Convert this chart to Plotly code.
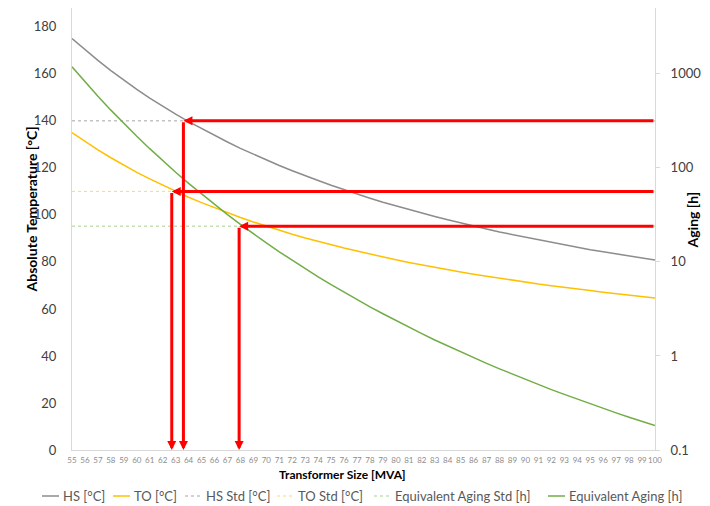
import math
import plotly.graph_objects as go

# ---- data ----
sizes = list(range(55, 101))
hs = [175.0, 170.2, 165.7, 161.4, 157.3, 153.4, 149.7, 146.2, 142.9, 139.7,
      136.7, 133.8, 131.0, 128.3, 125.8, 123.3, 121.0, 118.8, 116.6, 114.6,
      112.6, 110.7, 108.9, 107.1, 105.4, 103.8, 102.2, 100.7, 99.3, 97.9,
      96.5, 95.2, 94.0, 92.7, 91.6, 90.4, 89.3, 88.2, 87.2, 86.2,
      85.2, 84.3, 83.4, 82.5, 81.7, 80.8]
to = [135.0, 131.2, 127.7, 124.3, 121.1, 118.1, 115.3, 112.6, 110.0, 107.5,
      105.2, 103.0, 100.9, 98.9, 97.0, 95.2, 93.5, 91.8, 90.2, 88.7,
      87.3, 85.9, 84.6, 83.3, 82.1, 80.9, 79.8, 78.7, 77.6, 76.6,
      75.7, 74.8, 73.9, 73.0, 72.2, 71.4, 70.6, 69.9, 69.1, 68.4,
      67.8, 67.1, 66.5, 65.9, 65.3, 64.7]
aging = [1186, 822, 578, 411, 297, 217, 160, 119, 89.9, 68.4,
         52.6, 40.7, 31.8, 25.1, 19.9, 15.9, 12.8, 10.4, 8.47, 6.95,
         5.74, 4.76, 3.97, 3.33, 2.81, 2.38, 2.02, 1.73, 1.48, 1.28,
         1.10, 0.957, 0.834, 0.729, 0.639, 0.562, 0.496, 0.439, 0.390, 0.347,
         0.309, 0.277, 0.248, 0.223, 0.201, 0.182]
hs_std = [140] * len(sizes)
to_std = [110] * len(sizes)
aging_std = [24] * len(sizes)

# sizes where the curves reach the standard limits (read from arrows)
cross_hs = 63.6
cross_to = 62.7
cross_aging = 67.9

temp_ticks = [0, 20, 40, 60, 80, 100, 120, 140, 160, 180]
aging_ticks = [0.1, 1, 10, 100, 1000]
aging_labels = ["0.1", "1", "10", "100", "1000"]

FONT = "Lato, 'Open Sans', sans-serif"
AX = "#d9d9d9"

series = [
    dict(name="HS [°C]", x=sizes, y=hs, axis="y", color="#8c8c8c", width=1.5, dash="solid"),
    dict(name="TO [°C]", x=sizes, y=to, axis="y", color="#ffc000", width=1.5, dash="solid"),
    dict(name="HS Std [°C]", x=sizes, y=hs_std, axis="y", color="#a6a6a6", width=1, dash="dot"),
    dict(name="TO Std [°C]", x=sizes, y=to_std, axis="y", color="#ffd966", width=1, dash="dot"),
    dict(name="Equivalent Aging Std [h]", x=sizes, y=aging_std, axis="y2", color="#a9d18e", width=1, dash="dot"),
    dict(name="Equivalent Aging [h]", x=sizes, y=aging, axis="y2", color="#70ad47", width=1.5, dash="solid"),
]

fig = go.Figure()
for s in series:
    fig.add_trace(go.Scatter(x=s["x"], y=s["y"], name=s["name"], mode="lines",
                             yaxis=s["axis"], showlegend=False,
                             line=dict(color=s["color"], width=s["width"], dash=s["dash"])))

RED = "#ff0000"
def arrow(x, y, ax, ay, yref):
    fig.add_annotation(x=x, y=y, ax=ax, ay=ay, xref="x", yref=yref, axref="x", ayref=yref,
                       text="", showarrow=True, arrowhead=2, arrowsize=0.6,
                       arrowwidth=3, arrowcolor=RED, standoff=0)

arrow(cross_hs, hs_std[0], sizes[-1], hs_std[0], "y")
arrow(cross_hs, 0, cross_hs, hs_std[0], "y")
arrow(cross_to, to_std[0], sizes[-1], to_std[0], "y")
arrow(cross_to, 0, cross_to, to_std[0], "y")
la = math.log10(aging_std[0])
arrow(cross_aging, la, sizes[-1], la, "y2")
arrow(cross_aging, math.log10(aging_ticks[0]), cross_aging, la, "y2")

# The page body adds an 8px offset, so the figure is drawn 8px smaller and
# reference pixel positions are shifted by that offset.
OFF = 8
W, H = 710 - OFF, 506 - OFF
PL, PR, PT, PB = 72 - OFF, 655 - OFF, 8 - OFF, 450 - OFF
def px_x(p):
    return (p - OFF - PL) / (PR - PL)
def px_y(p):
    return (PB - (p - OFF)) / (PB - PT)

# legend drawn below the chart: sample line start (reference pixels)
legend_starts = [42, 113, 185, 277, 374, 548]
LEG_Y = 496
for s, x0 in zip(series, legend_starts):
    fig.add_shape(type="line", xref="paper", yref="paper",
                  x0=px_x(x0), x1=px_x(x0 + 17), y0=px_y(LEG_Y), y1=px_y(LEG_Y),
                  line=dict(color=s["color"], width=s["width"], dash=s["dash"]))
    fig.add_annotation(text=s["name"], xref="paper", yref="paper",
                       x=px_x(x0 + 19), y=px_y(LEG_Y), xanchor="left", yanchor="middle",
                       showarrow=False, font=dict(size=13, color="#595959", family=FONT))

# axis titles
fig.add_annotation(text="<b>Absolute Temperature [°C]</b>", xref="paper", yref="paper",
                   x=px_x(20), y=px_y(210), textangle=-90, showarrow=False,
                   font=dict(size=14, color="#000000", family=FONT))
fig.add_annotation(text="<b>Aging [h]</b>", xref="paper", yref="paper",
                   x=px_x(703), y=px_y(220), textangle=-90, showarrow=False,
                   font=dict(size=14, color="#000000", family=FONT))
fig.add_annotation(text="<b>Transformer Size [MVA]</b>", xref="paper", yref="paper",
                   x=px_x(342), y=px_y(484), showarrow=False,
                   font=dict(size=12, color="#000000", family=FONT))

fig.update_layout(
    width=W, height=H,
    margin=dict(l=PL, r=W - PR, t=PT, b=H - PB, autoexpand=False),
    paper_bgcolor="white", plot_bgcolor="white",
    font=dict(family=FONT, color="#595959"),
    showlegend=False,
    xaxis=dict(range=[55, 100], tickmode="array", tickvals=sizes,
               ticktext=[str(s) for s in sizes], tickangle=0,
               tickfont=dict(size=8, color="#8c8c8c"), showgrid=False,
               showline=True, linecolor=AX, linewidth=1, zeroline=False,
               ticks="", ticklabelstandoff=2),
    yaxis=dict(range=[0, 188], tickvals=temp_ticks, showgrid=False,
               showline=True, linecolor=AX, linewidth=1, zeroline=False,
               ticks="", tickfont=dict(size=13, color="#404040"),
               ticklabelstandoff=12),
    yaxis2=dict(type="log", range=[-1, 3.7], overlaying="y", side="right",
                tickvals=aging_ticks, ticktext=aging_labels, showgrid=False,
                showline=True, linecolor=AX, linewidth=1, zeroline=False,
                ticks="outside", ticklen=4, tickcolor=AX,
                tickfont=dict(size=13, color="#404040"), ticklabelstandoff=8),
)

fig.write_html("out.html")
